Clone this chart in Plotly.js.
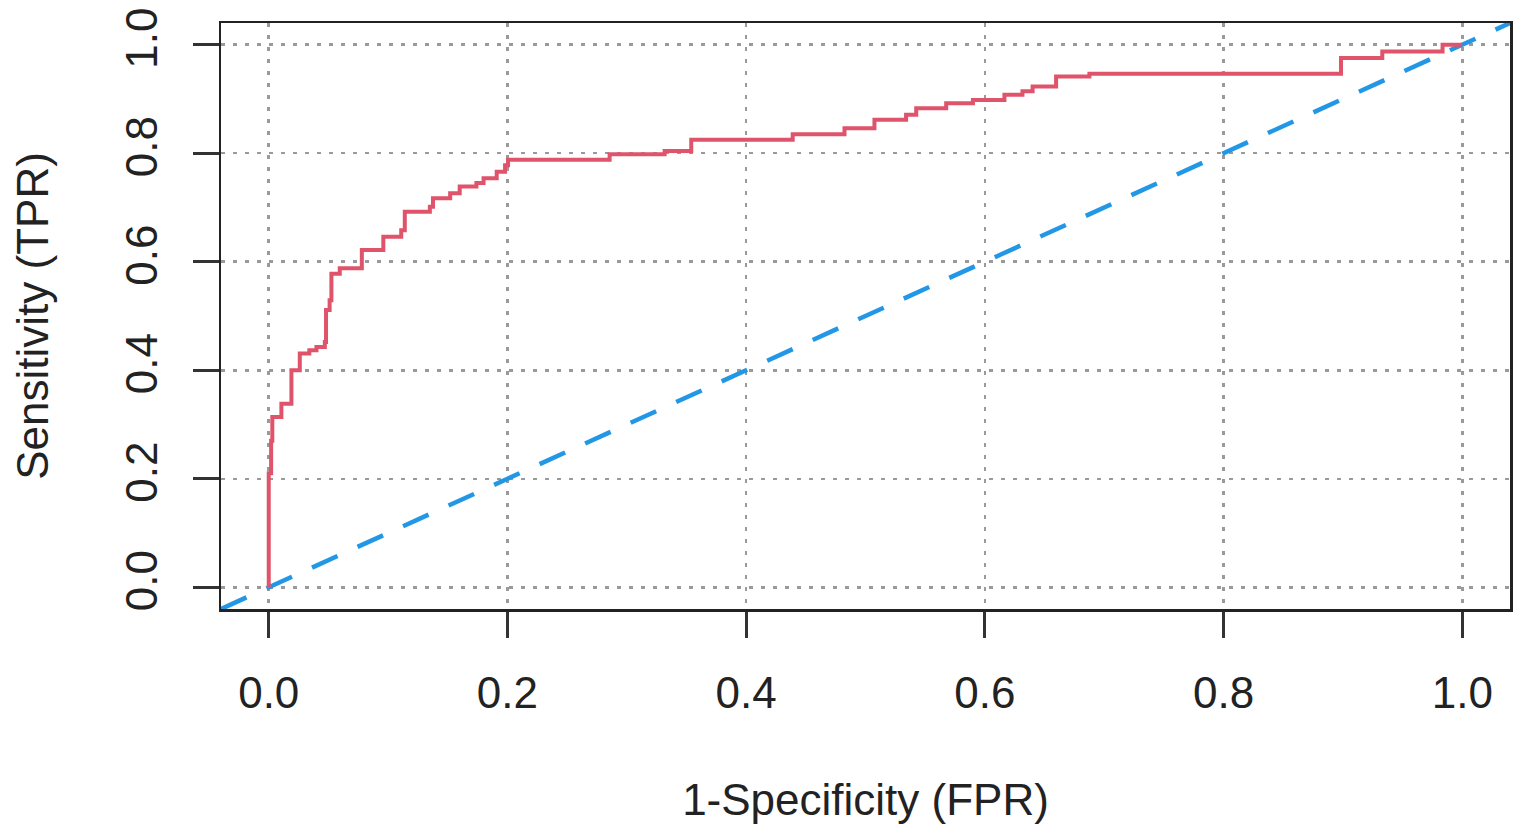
<!DOCTYPE html>
<html>
<head>
<meta charset="utf-8">
<script src="https://cdn.plot.ly/plotly-3.0.1.min.js"></script>
<style>
  html, body { margin: 0; padding: 0; background: #fff; }
  #roc { width: 1530px; height: 838px; }
</style>
</head>
<body>
<div id="roc"></div>
<script>
// ROC step points (FPR, TPR)
const fpr = [0, 0, 0.002, 0.003, 0.0106, 0.019, 0.026, 0.034, 0.040, 0.047, 0.048, 0.051,
  0.0525, 0.0595, 0.078, 0.096, 0.111, 0.114, 0.135, 0.1376, 0.152, 0.160, 0.174, 0.180,
  0.191, 0.198, 0.2005, 0.2856, 0.3317, 0.354, 0.439, 0.4824, 0.5075, 0.534, 0.5425,
  0.5676, 0.590, 0.6164, 0.6315, 0.640, 0.6597, 0.6876, 0.8984, 0.933, 0.9835, 1.0];
const tpr = [0, 0.21, 0.27, 0.314, 0.3385, 0.40, 0.431, 0.437, 0.443, 0.452, 0.511, 0.529,
  0.578, 0.588, 0.6215, 0.646, 0.658, 0.692, 0.7015, 0.717, 0.726, 0.7385, 0.745, 0.754,
  0.766, 0.778, 0.788, 0.798, 0.804, 0.8246, 0.835, 0.846, 0.8615, 0.871, 0.883,
  0.892, 0.898, 0.9077, 0.914, 0.923, 0.9415, 0.9465, 0.9754, 0.9877, 1.0, 1.0];

// chance line y = x across the whole plot
const diagX = [-0.04, 1.04];
const diagY = [-0.04, 1.04];

const ticks = [0, 0.2, 0.4, 0.6, 0.8, 1.0];
const tickText = ['0.0', '0.2', '0.4', '0.6', '0.8', '1.0'];

const font = { family: 'Liberation Sans, Arial, sans-serif', size: 44, color: '#222' };

const roc = {
  x: fpr, y: tpr,
  type: 'scatter', mode: 'lines',
  line: { color: '#DF536B', width: 4, shape: 'hv' },
  hoverinfo: 'skip'
};

const diag = {
  x: diagX, y: diagY,
  type: 'scatter', mode: 'lines',
  line: { color: '#2297E6', width: 4.5, dash: '28px,22px' },
  hoverinfo: 'skip'
};

const axisBase = {
  range: [-0.04, 1.04],
  tickvals: ticks, ticktext: tickText,
  ticks: 'outside', ticklen: 26, tickwidth: 3, tickcolor: '#333',
  showline: true, linecolor: '#222', linewidth: 2.5, mirror: true,
  showgrid: true, gridcolor: '#9a9a9a', gridwidth: 2.5, griddash: '4px,8px',
  zeroline: false, tickfont: font, automargin: false
};

const layout = {
  width: 1530, height: 838,
  margin: { l: 221, r: 20, t: 23, b: 229 },
  paper_bgcolor: '#fff', plot_bgcolor: '#fff',
  showlegend: false,
  font: font,
  xaxis: Object.assign({}, axisBase, {
    ticklabelstandoff: 18,
    title: { text: '1-Specificity (FPR)', font: font, standoff: 68 }
  }),
  yaxis: Object.assign({}, axisBase, {
    tickangle: -90,
    ticklabelstandoff: 18,
    title: { text: 'Sensitivity (TPR)', font: font, standoff: 55 }
  })
};

Plotly.newPlot('roc', [diag, roc], layout, { displayModeBar: false, staticPlot: true });
</script>
</body>
</html>
